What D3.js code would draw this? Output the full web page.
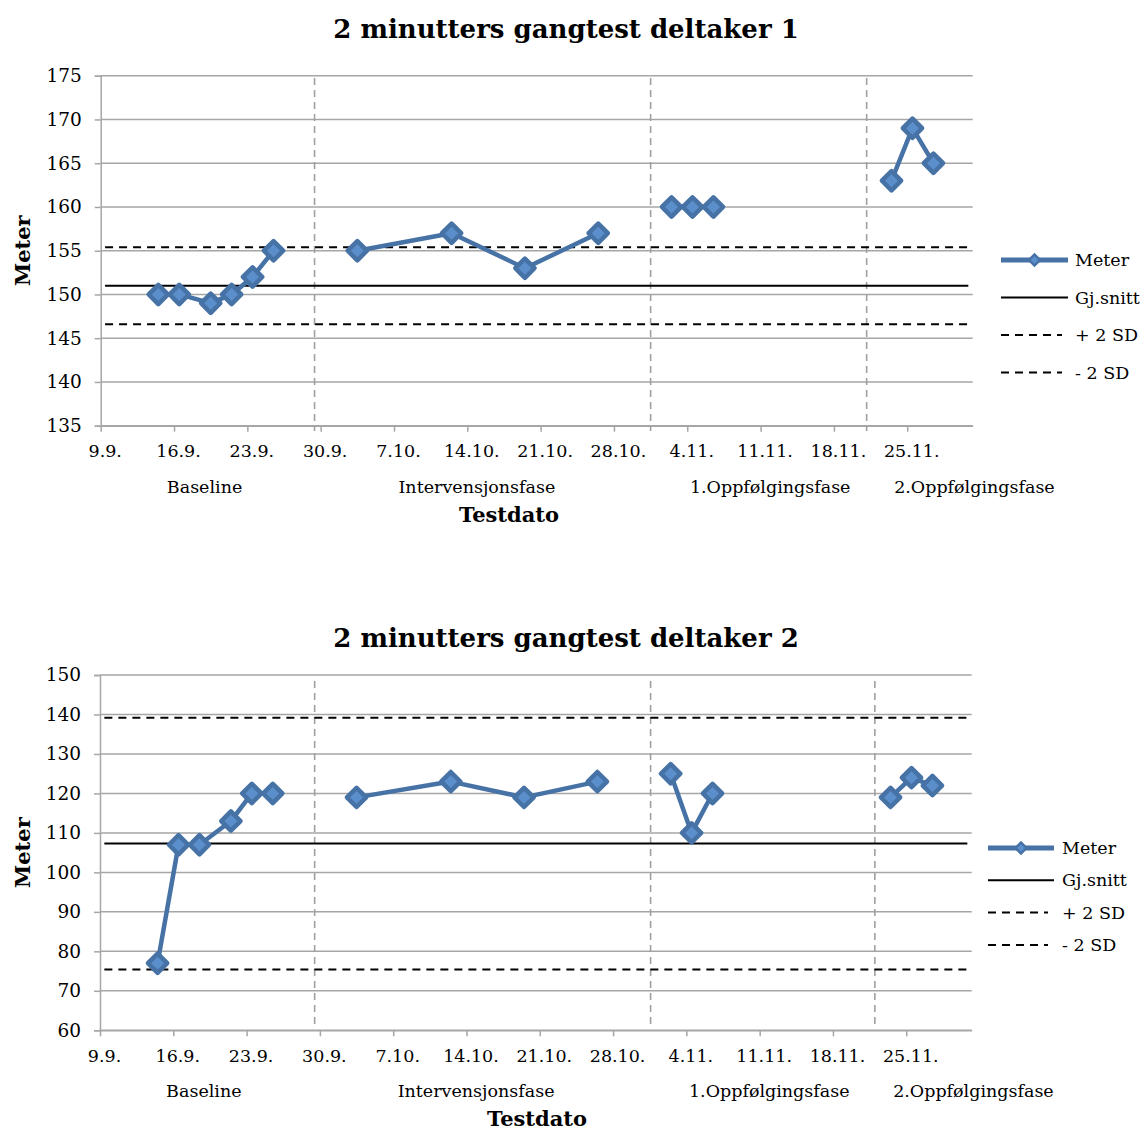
<!DOCTYPE html>
<html>
<head>
<meta charset="utf-8">
<script src="https://cdn.jsdelivr.net/npm/d3@7"></script>
<style>
  body { margin: 0; background: #fff; }
  svg { display: block; font-family: "DejaVu Serif", serif; }
</style>
</head>
<body>
<svg id="chart" width="1147" height="1131"></svg>
<script>
// test dates (one per measurement) and the measured distance in meters
const dates1 = ['2013-09-14', '2013-09-16', '2013-09-19', '2013-09-21', '2013-09-23', '2013-09-25',
  '2013-10-03', '2013-10-12', '2013-10-19', '2013-10-26',
  '2013-11-02', '2013-11-04', '2013-11-06',
  '2013-11-23', '2013-11-25', '2013-11-27'];
const meter1 = [150, 150, 149, 150, 152, 155, 155, 157, 153, 157, 160, 160, 160, 163, 169, 165];

const dates2 = ['2013-09-14', '2013-09-16', '2013-09-18', '2013-09-21', '2013-09-23', '2013-09-25',
  '2013-10-03', '2013-10-12', '2013-10-19', '2013-10-26',
  '2013-11-02', '2013-11-04', '2013-11-06',
  '2013-11-23', '2013-11-25', '2013-11-27'];
const meter2 = [77, 107, 107, 113, 120, 120, 119, 123, 119, 123, 125, 110, 120, 119, 124, 122];

// which phase each measurement belongs to (line is broken between phases)
const phaseOf = [0, 0, 0, 0, 0, 0, 1, 1, 1, 1, 2, 2, 2, 3, 3, 3];
const phaseNames = ['Baseline', 'Intervensjonsfase', '1.Oppfølgingsfase', '2.Oppfølgingsfase'];
const phaseLabelAt = ['2013-09-18T22:00', '2013-10-14T22:00', '2013-11-11T22:00', '2013-12-01T10:00'];
const phaseBreaks1 = ['2013-09-29T10:00', '2013-10-31T12:00', '2013-11-21T03:00'];
const phaseBreaks2 = ['2013-09-29T12:00', '2013-10-31T14:00', '2013-11-22T00:00'];

// baseline mean and +/- 2 SD
const refNames = ['Gj.snitt', '+ 2 SD', '- 2 SD'];
const refValues1 = [151.0, 155.4, 146.6];
const refValues2 = [107.3, 139.2, 75.4];
const refSpan = ['2013-09-09T10:00', '2013-11-30T20:00'];

const xTicks = ['2013-09-09', '2013-09-16', '2013-09-23', '2013-09-30', '2013-10-07', '2013-10-14',
  '2013-10-21', '2013-10-28', '2013-11-04', '2013-11-11', '2013-11-18', '2013-11-25'];
const xTickLabels = ['9.9.', '16.9.', '23.9.', '30.9.', '7.10.', '14.10.', '21.10.', '28.10.',
  '4.11.', '11.11.', '18.11.', '25.11.'];
const yTicks1 = [135, 140, 145, 150, 155, 160, 165, 170, 175];
const yTicks2 = [60, 70, 80, 90, 100, 110, 120, 130, 140, 150];

const parseDay = d3.timeParse('%Y-%m-%d');
const parseTime = d3.timeParse('%Y-%m-%dT%H:%M');
const xStart = parseTime('2013-09-09T00:00');
const xEnd = parseTime('2013-12-01T06:00');

const blue = '#4672a6';
const fillBlue = '#5b8fcc';
const grid = '#a6a6a6';

const svg = d3.select('#chart');
svg.append('rect').attr('width', 1147).attr('height', 1131).attr('fill', '#fff');

function drawChart(o) {
  const g = svg.append('g');
  const x = d3.scaleTime().domain([xStart, xEnd]).range([o.left, o.right]);
  const y = d3.scaleLinear().domain(o.yDomain).range([o.bottom, o.top]);

  // title
  g.append('text')
    .attr('x', 566).attr('y', o.titleY)
    .attr('text-anchor', 'middle')
    .attr('font-size', 26).attr('font-weight', 'bold')
    .text(o.title);

  // horizontal gridlines
  g.selectAll('.grid').data(o.yTicks).enter().append('line')
    .attr('x1', o.left).attr('x2', o.right)
    .attr('y1', d => y(d)).attr('y2', d => y(d))
    .attr('stroke', grid).attr('stroke-width', 1.5);

  // y axis
  const yAxis = g.append('g')
    .attr('transform', `translate(${ o.left }, 0)`)
    .call(d3.axisLeft(y).tickValues(o.yTicks).tickSize(6).tickPadding(13));
  yAxis.select('.domain').attr('stroke', grid).attr('stroke-width', 1.5);
  yAxis.selectAll('.tick line').attr('stroke', grid).attr('stroke-width', 1.5);
  yAxis.selectAll('.tick text').attr('font-size', 18.5).attr('font-family', 'DejaVu Serif').attr('fill', '#000');

  // x axis
  const tickDates = xTicks.map(parseDay);
  const xAxis = g.append('g')
    .attr('transform', `translate(0, ${ o.bottom })`)
    .call(d3.axisBottom(x).tickValues(tickDates).tickSize(6).tickSizeOuter(0).tickPadding(13)
      .tickFormat((d, i) => xTickLabels[i]));
  xAxis.select('.domain').attr('stroke', grid).attr('stroke-width', 1.5);
  xAxis.selectAll('.tick line').attr('stroke', grid).attr('stroke-width', 1.5);
  xAxis.selectAll('.tick text').attr('font-size', 17.5).attr('font-family', 'DejaVu Serif')
    .attr('fill', '#000').attr('dx', 4);

  // phase labels under the axis
  g.selectAll('.phase').data(phaseNames).enter().append('text')
    .attr('x', (d, i) => x(parseTime(phaseLabelAt[i])))
    .attr('y', o.bottom + 67)
    .attr('text-anchor', 'middle')
    .attr('font-size', 17.5)
    .text(d => d);

  // axis titles
  g.append('text')
    .attr('x', o.xTitleX).attr('y', o.bottom + 96)
    .attr('text-anchor', 'middle')
    .attr('font-size', 21).attr('font-weight', 'bold')
    .text('Testdato');
  g.append('text')
    .attr('transform', `translate(30, ${ (o.top + o.bottom) / 2 }) rotate(-90)`)
    .attr('text-anchor', 'middle')
    .attr('font-size', 21).attr('font-weight', 'bold')
    .text('Meter');

  // phase separators
  g.selectAll('.sep').data(o.breaks).enter().append('line')
    .attr('x1', d => x(parseTime(d))).attr('x2', d => x(parseTime(d)))
    .attr('y1', o.sepTop).attr('y2', o.sepBottom)
    .attr('stroke', '#a0a0a0').attr('stroke-width', 1.6)
    .attr('stroke-dasharray', '7,5');

  // mean and +/- 2 SD lines
  const x0 = x(parseTime(refSpan[0]));
  const x1 = x(parseTime(refSpan[1]));
  g.selectAll('.ref').data(o.refs).enter().append('line')
    .attr('x1', x0).attr('x2', x1)
    .attr('y1', d => y(d)).attr('y2', d => y(d))
    .attr('stroke', '#000').attr('stroke-width', 2)
    .attr('stroke-dasharray', (d, i) => i === 0 ? null : '8,6');

  // series
  const pts = o.dates.map((d, i) => ({
    date: d3.timeHour.offset(parseDay(d), 12),
    value: o.values[i],
    phase: phaseOf[i],
  }));
  const line = d3.line().x(d => x(d.date)).y(d => y(d.value));
  const groups = d3.groups(pts, d => d.phase);
  g.selectAll('.series').data(groups).enter().append('path')
    .attr('d', d => line(d[1]))
    .attr('fill', 'none')
    .attr('stroke', blue).attr('stroke-width', 4.5)
    .attr('stroke-linejoin', 'round');

  const diamond = d3.symbol().type(d3.symbolSquare).size(185);
  g.selectAll('.pt').data(pts).enter().append('path')
    .attr('d', diamond)
    .attr('transform', d => `translate(${ x(d.date) }, ${ y(d.value) }) rotate(45)`)
    .attr('fill', fillBlue)
    .attr('stroke', blue).attr('stroke-width', 4.5)
    .attr('stroke-linejoin', 'round');

  // legend
  const lg = g.append('g');
  const L = o.legend;
  const rows = [{name: 'Meter'}].concat(refNames.map(n => ({name: n})));
  rows.forEach((r, i) => {
    const ly = L.y + i * L.step;
    if (i === 0) {
      lg.append('line')
        .attr('x1', L.x).attr('x2', L.x + L.w)
        .attr('y1', ly).attr('y2', ly)
        .attr('stroke', blue).attr('stroke-width', 5);
      lg.append('path')
        .attr('d', d3.symbol().type(d3.symbolSquare).size(60))
        .attr('transform', `translate(${ L.x + L.w / 2 }, ${ ly }) rotate(45)`)
        .attr('fill', fillBlue).attr('stroke', blue).attr('stroke-width', 2.5);
    } else {
      lg.append('line')
        .attr('x1', L.x).attr('x2', L.x + (i === 1 ? L.w : L.w - 6))
        .attr('y1', ly).attr('y2', ly)
        .attr('stroke', '#000').attr('stroke-width', 2)
        .attr('stroke-dasharray', i === 1 ? null : '8,6');
    }
    lg.append('text')
      .attr('x', L.x + L.w + L.gap).attr('y', ly)
      .attr('dy', '0.35em')
      .attr('font-size', 17.5)
      .text(r.name);
  });
}

drawChart({
  title: '2 minutters gangtest deltaker 1',
  titleY: 38,
  left: 100.7, right: 972.7, top: 75.7, bottom: 425.7,
  yDomain: [135, 175], yTicks: yTicks1,
  dates: dates1, values: meter1,
  breaks: phaseBreaks1, refs: refValues1,
  sepTop: 78, sepBottom: 431,
  xTitleX: 509,
  legend: {x: 1001, y: 260, step: 37.5, w: 67, gap: 7},
});

drawChart({
  title: '2 minutters gangtest deltaker 2',
  titleY: 647,
  left: 100, right: 971.7, top: 675, bottom: 1030.3,
  yDomain: [60, 150], yTicks: yTicks2,
  dates: dates2, values: meter2,
  breaks: phaseBreaks2, refs: refValues2,
  sepTop: 681, sepBottom: 1027,
  xTitleX: 537,
  legend: {x: 988, y: 848, step: 32.3, w: 66, gap: 8},
});
</script>
</body>
</html>
